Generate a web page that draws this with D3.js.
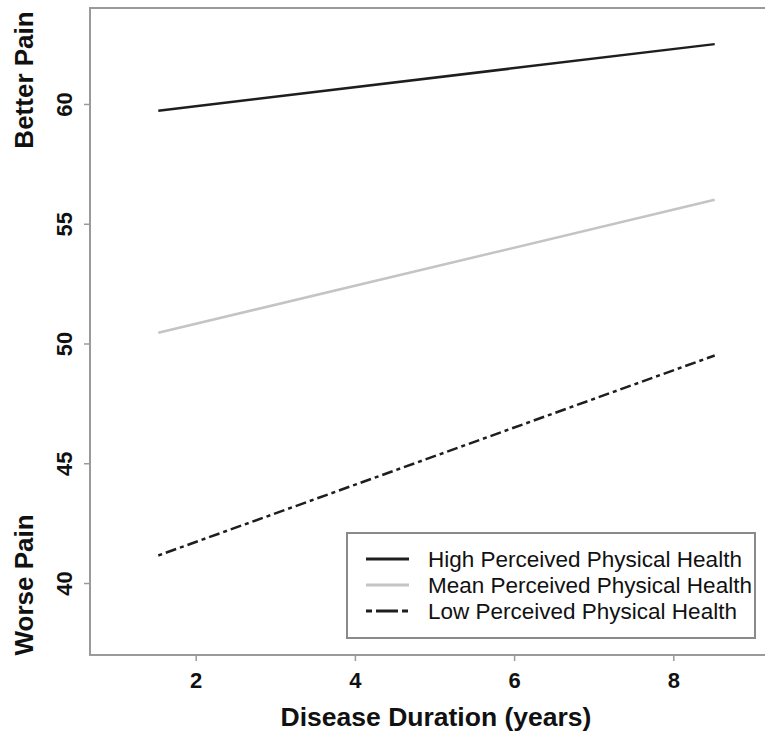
<!DOCTYPE html>
<html>
<head>
<meta charset="utf-8">
<script src="https://cdn.jsdelivr.net/npm/d3@7"></script>
<style>
	body { margin: 0; background: #fff; }
	text { font-family: "Liberation Sans", Arial, sans-serif; }
</style>
</head>
<body>
<svg width="765" height="739"></svg>
<script>
(function (d3) {
	'use strict';

	// data
	const durations = [1.53, 8.52];
	const highHealth = [59.72, 62.5];
	const meanHealth = [50.45, 56.0];
	const lowHealth = [41.15, 49.5];
	const seriesNames = ['High Perceived Physical Health', 'Mean Perceived Physical Health', 'Low Perceived Physical Health'];
	const xTicks = [2, 4, 6, 8];
	const yTicks = [40, 45, 50, 55, 60];

	const svg = d3.select('svg');

	const left = 90;
	const top = 8;
	const bottom = 655;
	const right = 775; // frame runs off the right edge

	const x = d3.scaleLinear().domain([2, 8]).range([195.7, 673.3]);
	const y = d3.scaleLinear().domain([40, 60]).range([583, 104]);

	// frame
	svg.append('path')
		.attr('d', `M${right},${top}H${left}V${bottom}H${right}`)
		.attr('fill', 'none')
		.attr('stroke', '#9a9a9a')
		.attr('stroke-width', 2);

	// x axis ticks
	const xAxisG = svg.append('g')
		.attr('transform', `translate(0, ${bottom})`)
		.call(d3.axisBottom(x).tickValues(xTicks).tickFormat(d3.format('d')).tickSize(6).tickSizeOuter(0));
	xAxisG.select('.domain').remove();
	xAxisG.selectAll('line').attr('stroke', '#9a9a9a').attr('stroke-width', 1.5);
	xAxisG.selectAll('text')
		.attr('y', 33)
		.attr('dy', 0)
		.attr('fill', '#111')
		.style('font-family', '"Liberation Sans", Arial, sans-serif')
		.style('font-weight', 'bold')
		.style('font-size', '22px');

	// y axis ticks
	const yAxisG = svg.append('g')
		.attr('transform', `translate(${left}, 0)`)
		.call(d3.axisLeft(y).tickValues(yTicks).tickFormat(d3.format('d')).tickSize(6).tickSizeOuter(0));
	yAxisG.select('.domain').remove();
	yAxisG.selectAll('line').attr('stroke', '#9a9a9a').attr('stroke-width', 1.5);
	yAxisG.selectAll('text')
		.attr('x', 0)
		.attr('y', 0)
		.attr('dy', 0)
		.attr('transform', 'translate(-18, 0) rotate(-90)')
		.attr('text-anchor', 'middle')
		.attr('fill', '#111')
		.style('font-family', '"Liberation Sans", Arial, sans-serif')
		.style('font-weight', 'bold')
		.style('font-size', '22px');

	// axis titles
	svg.append('text')
		.attr('x', 436)
		.attr('y', 726)
		.attr('text-anchor', 'middle')
		.attr('fill', '#111')
		.style('font-weight', 'bold')
		.style('font-size', '26.5px')
		.text('Disease Duration (years)');

	svg.append('text')
		.attr('transform', 'translate(33, 80) rotate(-90)')
		.attr('text-anchor', 'middle')
		.attr('fill', '#111')
		.style('font-weight', 'bold')
		.style('font-size', '26px')
		.text('Better Pain');

	svg.append('text')
		.attr('transform', 'translate(33, 585) rotate(-90)')
		.attr('text-anchor', 'middle')
		.attr('fill', '#111')
		.style('font-weight', 'bold')
		.style('font-size', '26px')
		.text('Worse Pain');

	// lines
	const styles = [
		{ values: highHealth, color: '#1e1e1e', dash: null },
		{ values: meanHealth, color: '#c4c4c4', dash: null },
		{ values: lowHealth, color: '#1e1e1e', dash: '4,4,11,4' }
	];

	const line = d3.line()
		.x(d => x(d[0]))
		.y(d => y(d[1]));

	styles.forEach(s => {
		svg.append('path')
			.attr('d', line(durations.map((dur, i) => [dur, s.values[i]])))
			.attr('fill', 'none')
			.attr('stroke', s.color)
			.attr('stroke-width', 2.5)
			.attr('stroke-dasharray', s.dash);
	});

	// legend
	const legendG = svg.append('g')
		.attr('transform', 'translate(347, 533)');

	legendG.append('rect')
		.attr('width', 408)
		.attr('height', 105)
		.attr('fill', '#fff')
		.attr('stroke', '#8a8a8a')
		.attr('stroke-width', 2);

	styles.forEach((s, i) => {
		const rowY = 26 + i * 26;
		legendG.append('line')
			.attr('x1', 19)
			.attr('x2', 62)
			.attr('y1', rowY)
			.attr('y2', rowY)
			.attr('stroke', s.color)
			.attr('stroke-width', 3)
			.attr('stroke-dasharray', s.dash ? '6,4,22,4' : null);
		legendG.append('text')
			.attr('x', 81)
			.attr('y', rowY + 8)
			.attr('fill', '#111')
			.style('font-size', '22.5px')
			.text(seriesNames[i]);
	});

}(d3));
</script>
</body>
</html>
